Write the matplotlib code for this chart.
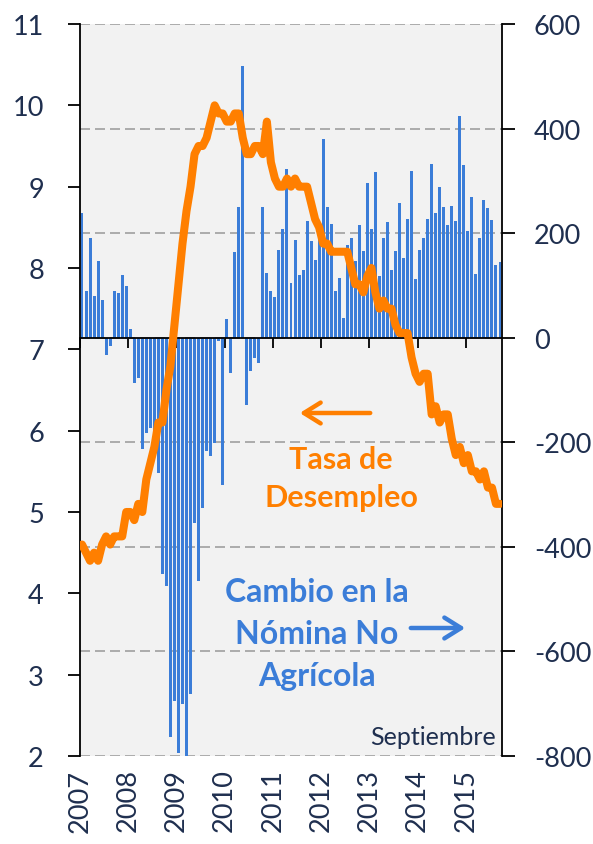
import matplotlib
matplotlib.use("Agg")
import matplotlib.pyplot as plt
import matplotlib.transforms as mtransforms
import numpy as np

plt.rcParams['font.family'] = ['Lato', 'DejaVu Sans']
plt.rcParams['axes.unicode_minus'] = False

# Cambio en la nomina no agricola (miles), ene 2007 - sep 2015
payroll = [
    238, 90, 191, 80, 147, 73, -33, -16, 90, 86, 119, 99,            # 2007
    17, -86, -78, -212, -182, -172, -210, -259, -451, -474, -763, -694,  # 2008
    -795, -701, -803, -682, -354, -465, -325, -216, -226, -201, -6, -281,  # 2009
    35, -67, 163, 250, 520, -128, -63, -38, -48, 250, 123, 90,       # 2010
    78, 168, 208, 322, 105, 186, 119, 129, 224, 185, 148, 208,       # 2011
    381, 250, 218, 89, 115, 37, 178, 190, 147, 215, 166, 295,        # 2012
    207, 317, 118, 190, 221, 130, 166, 258, 153, 228, 318, 112,      # 2013
    168, 191, 228, 333, 238, 288, 250, 215, 252, 224, 425, 331,      # 2014
    204, 269, 122, 190, 263, 248, 226, 139, 145,                     # 2015
]

# Tasa de desempleo (%)
unemployment = [
    4.6, 4.5, 4.4, 4.5, 4.4, 4.6, 4.7, 4.6, 4.7, 4.7, 4.7, 5.0,
    5.0, 4.9, 5.1, 5.0, 5.4, 5.6, 5.8, 6.1, 6.1, 6.5, 6.8, 7.3,
    7.8, 8.3, 8.7, 9.0, 9.4, 9.5, 9.5, 9.6, 9.8, 10.0, 9.9, 9.9,
    9.8, 9.8, 9.9, 9.9, 9.6, 9.4, 9.4, 9.5, 9.5, 9.4, 9.8, 9.3,
    9.1, 9.0, 9.0, 9.1, 9.0, 9.1, 9.0, 9.0, 9.0, 8.8, 8.6, 8.5,
    8.3, 8.3, 8.2, 8.2, 8.2, 8.2, 8.2, 8.0, 7.8, 7.8, 7.7, 7.9,
    8.0, 7.7, 7.5, 7.6, 7.5, 7.5, 7.3, 7.2, 7.2, 7.2, 6.9, 6.7,
    6.6, 6.7, 6.7, 6.2, 6.3, 6.1, 6.2, 6.2, 5.9, 5.7, 5.8, 5.6,
    5.7, 5.5, 5.5, 5.4, 5.5, 5.3, 5.3, 5.1, 5.1,
]

years = ['2007', '2008', '2009', '2010', '2011', '2012', '2013', '2014', '2015']

navy = '#1f2f4f'
blue = '#3b7dd8'
orange = '#ff7f00'

W, H = 593, 845
fig = plt.figure(figsize=(W / 100, H / 100), dpi=100)
fig.patch.set_facecolor('white')

# bars on the base axes (scale on the right)
ax = fig.add_axes([80 / W, 1 - 757 / H, 422 / W, 732 / H])
ax.set_facecolor('#f2f2f2')
x = np.arange(len(payroll)) + 0.5
ax.bar(x, payroll, width=0.74, color=blue, zorder=2)
ax.set_xlim(0, len(payroll))
ax.set_ylim(-800, 600)
ax.set_yticks(range(-800, 601, 200))
ax.grid(axis='y', color='#a0a0a0', linestyle=(0, (6, 3)), linewidth=1.2)
ax.set_axisbelow(True)
for s in ['top', 'left']:
    ax.spines[s].set_visible(False)
ax.spines['right'].set_linewidth(1.3)
ax.spines['bottom'].set_position(('data', 0))
ax.spines['bottom'].set_linewidth(1.3)
ax.spines['bottom'].set_zorder(3)
year_pos = [12 * i for i in range(len(years))]
ax.set_xticks(year_pos)
ax.set_xticklabels([''] * len(years))
ax.tick_params(axis='x', direction='out', length=7, width=1.3, color='black')

# year labels under the plot
trans = mtransforms.blended_transform_factory(ax.transData, ax.transAxes)
for pos, yr in zip(year_pos, years):
    ax.text(pos, -0.017, yr, transform=trans, rotation=90, ha='center',
            va='top', fontsize=19.5, color=navy)

# unemployment line on the twin (scale on the left)
ax2 = ax.twinx()
ax2.plot(x, unemployment, color=orange, linewidth=5.8, solid_joinstyle='round',
         solid_capstyle='round', zorder=4)
ax2.set_ylim(2, 11)
ax2.set_yticks(range(2, 12))
for s in ['top', 'right', 'bottom']:
    ax2.spines[s].set_visible(False)
ax2.spines['left'].set_visible(True)
ax2.spines['left'].set_linewidth(1.3)
ax2.tick_params(axis='x', length=0)

# twinx resets the sides, so put them back afterwards
ax.yaxis.tick_right()
ax.yaxis.set_label_position('right')
ax2.yaxis.tick_left()
ax2.yaxis.set_label_position('left')
ax.tick_params(axis='y', which='both', left=False, labelleft=False, right=True,
               labelright=True, direction='out', length=9, width=1.3, pad=14,
               labelsize=19.5, labelcolor=navy)
ax2.tick_params(axis='y', which='both', right=False, labelright=False, left=True,
                labelleft=True, direction='out', length=9, width=1.3, pad=17,
                labelsize=19.5, labelcolor=navy)

# annotations
def fx(px):
    return px / W

def fy(py):
    return 1 - py / H

fig.text(fx(341), fy(460), 'Tasa de', ha='center', va='center',
         fontsize=22, fontweight='bold', color=orange)
fig.text(fx(341), fy(498), 'Desempleo', ha='center', va='center',
         fontsize=22, fontweight='bold', color=orange)
fig.text(fx(317), fy(593), 'Cambio en la', ha='center', va='center',
         fontsize=23, fontweight='bold', color=blue)
fig.text(fx(317), fy(635), 'Nómina No', ha='center', va='center',
         fontsize=23, fontweight='bold', color=blue)
fig.text(fx(317), fy(677), 'Agrícola', ha='center', va='center',
         fontsize=23, fontweight='bold', color=blue)
fig.text(fx(496), fy(738), 'Septiembre', ha='right', va='center',
         fontsize=18, color=navy)

fig.patches.append(matplotlib.patches.FancyArrowPatch(
    (fx(373), fy(414)), (fx(297), fy(414)), transform=fig.transFigure,
    arrowstyle='->,head_length=8,head_width=5', mutation_scale=1.5,
    color=orange, linewidth=3.2))
fig.patches.append(matplotlib.patches.FancyArrowPatch(
    (fx(408), fy(629)), (fx(468), fy(629)), transform=fig.transFigure,
    arrowstyle='->,head_length=8,head_width=5', mutation_scale=1.5,
    color=blue, linewidth=3.2))

fig.savefig('out.png', dpi=100)
